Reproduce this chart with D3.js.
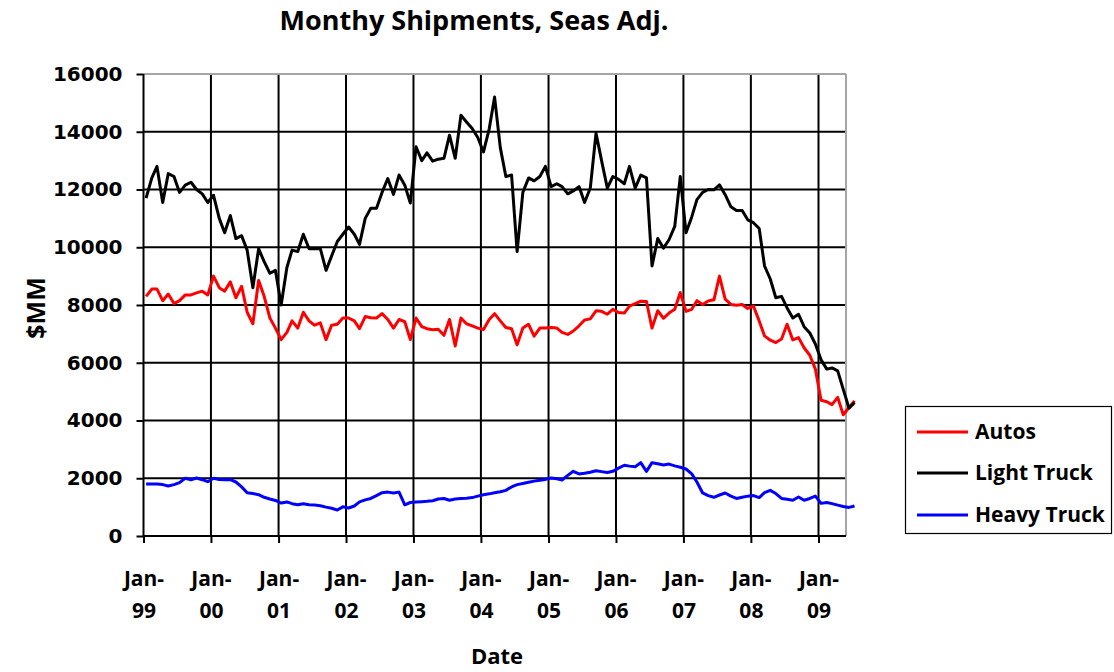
<!DOCTYPE html>
<html><head><meta charset="utf-8">
<script src="https://cdn.jsdelivr.net/npm/d3@7"></script>
<style>body{margin:0;background:#fff;} svg{display:block}</style>
</head><body>
<svg id="chart" width="1114" height="672"></svg>
<script>
// ---- data (monthly, Jan-1999 .. Jul-2009), $MM ----
const startYear = 1999;
const tickYearLabels = ["99","00","01","02","03","04","05","06","07","08","09"];
const yTickValues = [0,2000,4000,6000,8000,10000,12000,14000,16000];
const seriesNames = ["Autos","Light Truck","Heavy Truck"];

const autos = [
  8300, 8550, 8550, 8150, 8380, 8050, 8150, 8350, 8350, 8420, 8480, 8350,
  9000, 8600, 8480, 8800, 8250, 8650, 7750, 7350, 8850, 8300, 7550, 7200,
  6800, 7050, 7450, 7200, 7750, 7450, 7300, 7380, 6800, 7300, 7330, 7550,
  7550, 7450, 7180, 7600, 7560, 7550, 7700, 7500, 7200, 7500, 7420, 6800,
  7550, 7250, 7180, 7140, 7160, 6950, 7500, 6580, 7550, 7350, 7280, 7200,
  7150, 7500, 7700, 7450, 7220, 7180, 6620, 7200, 7330, 6920, 7200, 7200,
  7220, 7200, 7050, 6980, 7100, 7280, 7480, 7520, 7800, 7780, 7680, 7850,
  7740, 7720, 7960, 8050, 8130, 8120, 7200, 7800, 7540, 7720, 7850, 8430,
  7780, 7850, 8150, 8020, 8140, 8180, 9000, 8200, 8020, 7990, 8020, 7880,
  7960, 7450, 6930, 6780, 6700, 6820, 7330, 6790, 6870, 6520, 6260, 5780,
  4700, 4650, 4550, 4800, 4200, 4450, 4680
];
const lightTruck = [
  11700, 12400, 12800, 11550, 12550, 12450, 11900, 12150, 12250, 12000, 11850, 11550,
  11800, 11000, 10500, 11100, 10300, 10400, 9900, 8600, 9950, 9500, 9100, 9200,
  8000, 9300, 9900, 9850, 10450, 9950, 9950, 9950, 9200, 9700, 10200, 10450,
  10700, 10450, 10100, 11000, 11350, 11350, 11900, 12380, 11830, 12500, 12150, 11530,
  13480, 13000, 13270, 12980, 13050, 13080, 13880, 13080, 14570, 14340, 14110, 13800,
  13300, 14100, 15200, 13450, 12450, 12500, 9850, 11900, 12400, 12300, 12450, 12800,
  12100, 12200, 12100, 11850, 11950, 12100, 11550, 12050, 13950, 13000, 12050, 12450,
  12350, 12200, 12800, 12050, 12500, 12400, 9350, 10300, 9970, 10260, 10720, 12450,
  10500, 11050, 11650, 11900, 12000, 11990, 12160, 11820, 11400, 11270, 11270, 10950,
  10850, 10650, 9350, 8900, 8250, 8300, 7900, 7550, 7680, 7250, 7030, 6650,
  6100, 5780, 5820, 5720, 5080, 4430, 4620
];
const heavyTruck = [
  1800, 1800, 1800, 1780, 1730, 1780, 1850, 2000, 1950, 2010, 1950, 1880,
  2000, 1960, 1950, 1950, 1870, 1700, 1500, 1470, 1430, 1340, 1280, 1230,
  1140, 1180, 1120, 1080, 1120, 1080, 1070, 1050, 1000, 960, 900, 1010,
  970, 1040, 1180, 1250, 1300, 1400, 1500, 1520, 1490, 1520, 1080, 1160,
  1180, 1190, 1200, 1220, 1280, 1300, 1240, 1280, 1300, 1310, 1330, 1380,
  1430, 1460, 1500, 1530, 1580, 1700, 1780, 1820, 1860, 1900, 1930, 1960,
  2010, 1980, 1940, 2100, 2240, 2150, 2170, 2210, 2260, 2230, 2200, 2240,
  2350, 2450, 2420, 2400, 2540, 2240, 2540, 2500, 2460, 2490, 2430, 2380,
  2320, 2150, 1870, 1490, 1400, 1340, 1420, 1490, 1380, 1300, 1340, 1380,
  1400, 1330, 1500, 1580, 1470, 1300, 1270, 1240, 1350, 1240, 1300, 1380,
  1130, 1160, 1120, 1070, 1020, 990, 1040
];
const seriesColors = ["#ff0000","#000000","#0000ff"];

// ---- layout ----
const plotLeft = 143.5, plotRight = 846, plotTop = 74, plotBottom = 536;
const svg = d3.select("#chart");

const x = d3.scaleTime()
  .domain([new Date(startYear,0,1), new Date(startYear+10,0,1)])
  .range([plotLeft, 818.5]);
const y = d3.scaleLinear().domain([0,16000]).range([plotBottom, plotTop]);

const monthDate = i => new Date(startYear, i, 15);
const yearTicks = tickYearLabels.map((d,i) => new Date(startYear+i,0,1));

// horizontal gridlines
svg.append("g").selectAll("line").data(yTickValues.filter(v => v>0 && v<16000)).join("line")
  .attr("x1", plotLeft).attr("x2", plotRight)
  .attr("y1", d=>y(d)).attr("y2", d=>y(d))
  .attr("stroke","#000").attr("stroke-width",2);
// vertical gridlines
svg.append("g").selectAll("line").data(yearTicks.slice(1)).join("line")
  .attr("x1", d=>x(d)).attr("x2", d=>x(d))
  .attr("y1", plotTop).attr("y2", plotBottom)
  .attr("stroke","#000").attr("stroke-width",2);
// top & right border (gray)
svg.append("line").attr("x1",plotLeft).attr("x2",plotRight).attr("y1",plotTop).attr("y2",plotTop)
  .attr("stroke","#a6a6a6").attr("stroke-width",2);
svg.append("line").attr("x1",plotRight).attr("x2",plotRight).attr("y1",plotTop).attr("y2",plotBottom)
  .attr("stroke","#a6a6a6").attr("stroke-width",2);

// y axis
const yAxis = svg.append("g").attr("transform",`translate(${plotLeft},0)`)
  .call(d3.axisLeft(y).tickValues(yTickValues).tickSize(7).tickPadding(14).tickFormat(d3.format("d")));
yAxis.select(".domain").attr("stroke","#000").attr("stroke-width",2).attr("d",`M0,${plotTop}V${plotBottom}`);
yAxis.selectAll(".tick line").attr("stroke","#000").attr("stroke-width",2);
yAxis.selectAll(".tick text").attr("font-family","DejaVu Sans").attr("font-weight","bold")
  .attr("font-size",20).attr("fill","#000");

// x axis
const xAxis = svg.append("g").attr("transform",`translate(0,${plotBottom})`)
  .call(d3.axisBottom(x).tickValues(yearTicks).tickSize(7).tickFormat(""));
xAxis.select(".domain").attr("stroke","#000").attr("stroke-width",2).attr("d",`M${plotLeft},0H${plotRight}`);
xAxis.selectAll(".tick line").attr("stroke","#000").attr("stroke-width",2);
const xl = xAxis.selectAll(".tick").append("text")
  .attr("font-family","Open Sans").attr("font-weight","bold").attr("font-size",21)
  .attr("fill","#000").attr("text-anchor","middle");
xl.append("tspan").attr("x",0).attr("y",50).text("Jan-");
xl.append("tspan").attr("x",0).attr("y",82).text((d,i)=>tickYearLabels[i]);

// lines
const allSeries = [autos, lightTruck, heavyTruck];
const line = d3.line().x((d,i)=>x(monthDate(i))).y(d=>y(d));
[2,0,1].forEach(k => {
  svg.append("path").datum(allSeries[k]).attr("d", line)
    .attr("fill","none").attr("stroke",seriesColors[k]).attr("stroke-width",3)
    .attr("stroke-linejoin","round");
});

// titles
svg.append("text").attr("x",474).attr("y",30).attr("text-anchor","middle")
  .attr("font-family","Open Sans").attr("font-weight","bold").attr("font-size",27)
  .text("Monthy Shipments, Seas Adj.");
svg.append("text").attr("x",497).attr("y",664).attr("text-anchor","middle")
  .attr("font-family","Open Sans").attr("font-weight","bold").attr("font-size",22)
  .text("Date");
svg.append("text").attr("transform","translate(45,308) rotate(-90)").attr("text-anchor","middle")
  .attr("font-family","Open Sans").attr("font-weight","bold").attr("font-size",25)
  .text("$MM");

// legend
const lg = svg.append("g");
lg.append("rect").attr("x",905.5).attr("y",406.5).attr("width",206).attr("height",127)
  .attr("fill","#fff").attr("stroke","#000").attr("stroke-width",1.2);
const legY = [432, 473, 515];
seriesNames.forEach((n,i) => {
  lg.append("line").attr("x1",917).attr("x2",968).attr("y1",legY[i]).attr("y2",legY[i])
    .attr("stroke",seriesColors[i]).attr("stroke-width",3);
  lg.append("text").attr("x",975).attr("y",legY[i]).attr("dy","0.35em")
    .attr("font-family","Open Sans").attr("font-weight","bold").attr("font-size",21)
    .text(n);
});
</script>
</body></html>
